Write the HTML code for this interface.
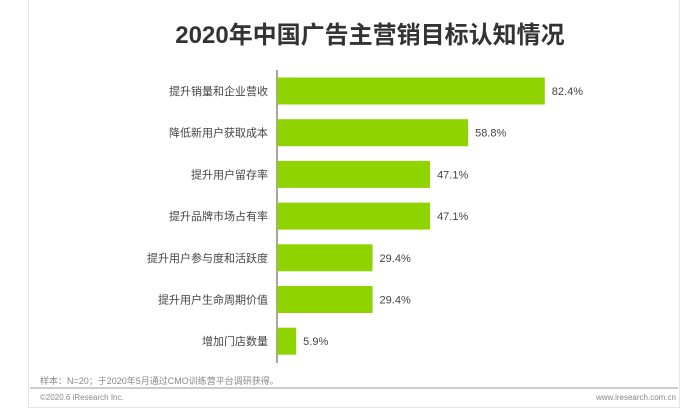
<!DOCTYPE html>
<html><head><meta charset="utf-8"><style>
body{margin:0;background:#fff;width:693px;height:420px;overflow:hidden;font-family:"Liberation Sans","Noto Sans CJK SC",sans-serif}
#card{position:absolute;left:28px;top:-2px;width:652px;height:410px;border:1px solid #e6e6e6;box-sizing:border-box}
</style></head><body>
<div id="card"></div>
<svg width="693" height="420" style="position:absolute;left:0;top:0" id="chart">
<text x="370" y="43" text-anchor="middle" font-size="24" font-weight="bold" fill="#333" font-family="Liberation Sans, Noto Sans CJK SC, sans-serif">2020年中国广告主营销目标认知情况</text>
<line x1="277" y1="70" x2="277" y2="363" stroke="#888" stroke-width="1.5"/>
<g id="bars"></g>
<text x="40" y="384" font-size="9" fill="#888">样本：N=20；于2020年5月通过CMO训练营平台调研获得。</text>
<line x1="30" y1="388" x2="678" y2="388" stroke="#bbb" stroke-width="1.5"/>
<text x="40" y="400" font-size="8" fill="#888">©2020.6 iResearch Inc.</text>
<text x="676" y="400" font-size="8" fill="#888" text-anchor="end">www.iresearch.com.cn</text>
</svg>
<script>
const categories=["提升销量和企业营收","降低新用户获取成本","提升用户留存率","提升品牌市场占有率","提升用户参与度和活跃度","提升用户生命周期价值","增加门店数量"];
const values=[82.4,58.8,47.1,47.1,29.4,29.4,5.9];
const labels=["82.4%","58.8%","47.1%","47.1%","29.4%","29.4%","5.9%"];
const NS="http://www.w3.org/2000/svg";
const g=document.getElementById('bars');
function x(v){return 277+v*3.25;}
function yc(i){return 91+i*41.7;}
categories.forEach((c,i)=>{
  const r=document.createElementNS(NS,'rect');
  r.setAttribute('x',277);r.setAttribute('y',yc(i)-13.5);
  r.setAttribute('width',x(values[i])-277);r.setAttribute('height',27);
  r.setAttribute('fill','#8fd400');
  
  
  g.appendChild(r);
  const t=document.createElementNS(NS,'text');
  t.setAttribute('x',268);t.setAttribute('y',yc(i)+4);
  t.setAttribute('text-anchor','end');t.setAttribute('font-size','11');t.setAttribute('fill','#444');
  t.textContent=c;
  
  
  g.appendChild(t);
  const v=document.createElementNS(NS,'text');
  v.setAttribute('x',x(values[i])+7);v.setAttribute('y',yc(i)+4);
  v.setAttribute('font-size','11');v.setAttribute('fill','#444');
  v.textContent=labels[i];
  
  
  g.appendChild(v);
});
</script>
</body></html>
